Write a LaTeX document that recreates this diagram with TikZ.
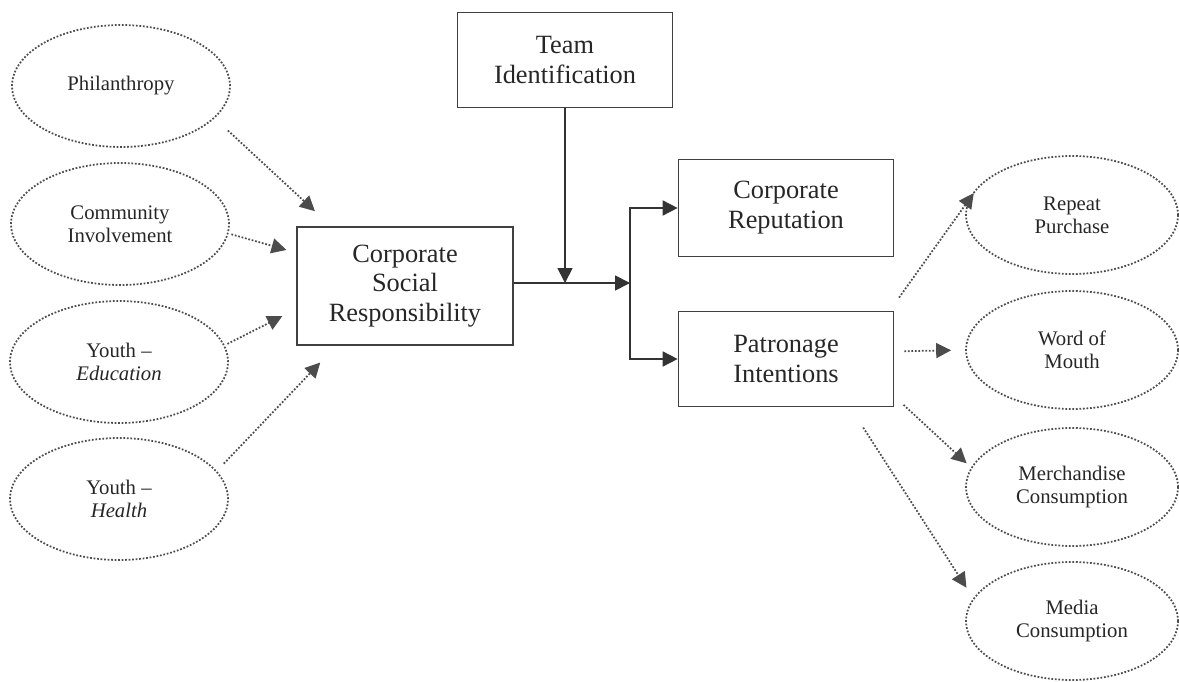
\documentclass[tikz,border=0pt]{standalone}
\usepackage{fontspec}
\setmainfont{Liberation Serif}
\usetikzlibrary{shapes,arrows.meta,positioning}

\begin{document}
\begin{tikzpicture}[x=0.02cm, y=-0.02cm,
	box/.style={rectangle, draw=black!75, line width=1pt, text=black!85, font=\fontsize{15}{17}\selectfont, align=center, minimum width=4.3cm, minimum height=1.9cm},
	factor/.style={ellipse, draw=black!70, densely dotted, line width=1pt, text=black!85, font=\fontsize{11.8}{13.3}\selectfont, align=center, minimum width=4.36cm, minimum height=2.44cm},
	outcome/.style={factor, minimum width=4.24cm, minimum height=2.36cm},
	link/.style={-{Stealth[length=0.3cm, width=0.3cm, inset=0pt]}, draw=black!80, line width=1pt},
	dotlink/.style={link, densely dotted, draw=black!70, line width=1pt}]

	\useasboundingbox (0,0) rectangle (1179,682);

	\node[factor] (phil) at (121,86) {Philanthropy};
	\node[factor] (comm) at (120,224) {Community\\Involvement};
	\node[factor] (yedu) at (119,362) {Youth --\\\textit{Education}};
	\node[factor] (yhea) at (119,499) {Youth --\\\textit{Health}};

	\node[box, minimum width=4.32cm, minimum height=2.36cm] (csr) at (405,286) {Corporate\\Social\\Responsibility};
	\node[box] (team) at (565,60) {Team\\Identification};
	\node[box, minimum height=1.94cm] (rep) at (786,208) {Corporate\\Reputation};
	\node[box] (patr) at (786,359) {Patronage\\Intentions};

	\node[outcome] (rpt) at (1072,215) {Repeat\\Purchase};
	\node[outcome] (wom) at (1072,350) {Word of\\Mouth};
	\node[outcome] (merch) at (1072,487) {Merchandise\\Consumption};
	\node[outcome] (media) at (1072,621) {Media\\Consumption};

	\coordinate (fork) at (630,283);
	\coordinate (join) at (team.south |- fork);

	\draw[link] (csr.east |- fork) -- (fork);
	\draw[link] (team) -- (join);
	\draw[link] (fork) |- (rep);
	\draw[link] (fork) |- (patr);

	\draw[dotlink, shorten <=0.36cm, shorten >=0.44cm] (phil.-19) -- (csr.141);
	\draw[dotlink, shorten <=0.06cm, shorten >=0.2cm] (comm.-5) -- (csr.163);
	\draw[dotlink, shorten <=0.06cm, shorten >=0.31cm] (yedu.9) -- (csr.192);
	\draw[dotlink, shorten <=0.2cm, shorten >=0.46cm] (yhea.16) -- (csr.221);

	\draw[dotlink, shorten <=0.32cm, shorten >=0.2cm] (patr.25) -- (rpt.162);
	\draw[dotlink, shorten <=0.2cm, shorten >=0.28cm] (patr.4) -- (wom.180);
	\draw[dotlink, shorten <=0.25cm, shorten >=0.12cm] (patr.-19) -- (merch.169);
	\draw[dotlink, shorten <=0.48cm, shorten >=0.25cm] (patr.-37) -- (media.167);

\end{tikzpicture}
\end{document}
